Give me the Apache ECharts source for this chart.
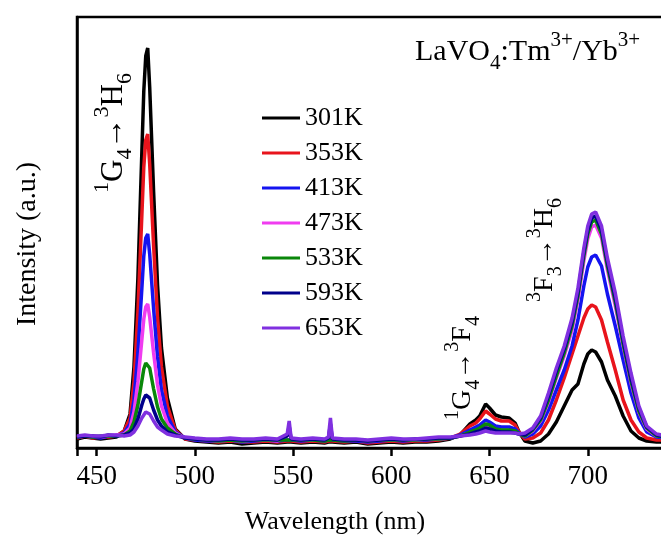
<!DOCTYPE html>
<html><head><meta charset="utf-8">
<script src="https://cdn.jsdelivr.net/npm/echarts@6/dist/echarts.min.js"></script>
<style>html,body{margin:0;padding:0;background:#fff}#c{width:661px;height:537px}</style>
</head><body><div id="c"></div>
<script>
// wavelength sampling points (nm)
const wavelengths = [440,444,448,452,456,460,
  464,467,469,471,473,474,475,476,477,479,481,483,486,490,
  495,500,506,512,518,524,530,536,542,547,548,549,
  554,560,566,568,569,570,
  576,582,588,594,600,606,612,618,624,630,
  635,640,643,645,648,650,653,656,660,663,665,668,
  672,676,680,684,688,692,695,698,700,702,704,707,710,714,718,722,726,730,735,740];

const seriesNames = ['301K','353K','413K','473K','533K','593K','653K'];

const i301 = [9,11,10,9,10,11,
  17,34,81,170,295,357,392,400,361,256,163,100,50,19,
  9,7,6,5,6,4,5,6,5,6,7,6,
  5,6,5,6,7,6,
  5,6,4,5,6,5,6,6,7,9,
  13,24,28,32,44,40,33,31,30,25,16,7,
  5,7,14,26,42,58,64,84,94,98,96,86,68,52,32,17,10,7,6,6];

const i353 = [10,12,10,11,11,12,
  17,30,66,136,232,281,308,314,284,202,130,81,42,18,
  9,8,7,6,7,6,6,7,6,7,8,7,
  6,7,6,7,8,7,
  6,7,5,6,7,6,7,7,8,10,
  14,22,25,29,37,34,29,27,27,23,16,9,
  10,15,28,48,70,94,112,130,139,143,141,128,106,78,48,28,16,10,8,8];

const i413 = [11,12,11,10,12,12,
  15,24,48,95,159,192,210,214,194,139,91,58,32,16,
  10,8,7,7,8,6,7,8,7,8,10,8,
  7,8,7,8,10,8,
  7,7,6,7,8,7,8,8,9,10,
  13,18,21,23,28,26,22,21,21,19,15,11,
  14,22,38,58,78,102,128,162,181,191,193,182,154,122,88,55,30,16,11,10];

const i473 = [11,12,12,11,12,13,
  14,20,36,66,108,129,141,144,131,95,63,42,25,15,
  10,9,8,7,8,7,8,8,7,12,18,9,
  8,8,8,10,20,9,
  8,8,7,8,8,8,8,9,9,10,
  12,15,17,19,22,21,18,17,17,16,14,12,
  17,27,46,70,92,118,148,187,209,221,223,210,178,142,102,65,36,19,12,11];

const i533 = [11,12,11,12,12,12,
  13,17,26,43,67,79,85,87,80,59,41,29,20,14,
  10,9,8,7,8,7,8,8,8,8,10,8,
  8,8,7,8,10,8,
  7,8,7,8,8,8,8,9,9,10,
  12,16,18,20,24,23,19,18,18,17,14,12,
  18,28,48,72,95,122,152,192,214,226,228,214,182,146,104,67,37,20,12,11];

const i593 = [11,12,12,11,13,12,
  13,15,19,29,43,49,53,54,50,38,28,22,16,13,
  10,9,8,8,9,8,8,9,8,12,22,9,
  8,9,8,10,24,9,
  8,8,7,8,9,8,9,9,10,10,
  12,14,16,17,20,19,17,16,16,15,14,13,
  19,30,52,77,99,126,156,196,218,230,232,218,186,150,108,70,40,21,13,11];

const i653 = [12,13,12,12,13,13,
  12,13,16,22,30,33,36,36,34,27,21,18,14,12,
  11,10,9,9,10,9,9,10,9,14,27,10,
  9,10,9,11,30,10,
  9,9,8,9,10,9,9,10,11,11,
  12,13,14,15,17,16,15,15,15,15,14,15,
  20,32,55,80,102,130,160,200,222,234,236,222,190,155,112,75,42,22,14,12];

const xTicks = [450,500,550,600,650,700,750];

const intensities = [i301,i353,i413,i473,i533,i593,i653];
const colors = ['#000000','#e8141c','#1414f0','#f03cf0','#0a870a','#00008b','#8030e0'];
const FONT = '"Liberation Serif","Times New Roman",serif';

const chart = echarts.init(document.getElementById('c'));

function mkRich(big, small) {
  return {
    n:   {fontFamily: FONT, fontSize: big, lineHeight: Math.round(big * 1.45), color: '#000'},
    sup: {fontFamily: FONT, fontSize: small, lineHeight: small + 2, verticalAlign: 'top', color: '#000'},
    sub: {fontFamily: FONT, fontSize: small, lineHeight: small + 2, verticalAlign: 'bottom', color: '#000'}
  };
}

function label(x, y, text, rot, align, big, small) {
  return {
    type: 'text', x: x, y: y, rotation: rot || 0, silent: true, z: 100,
    style: {
      text: text, rich: mkRich(big || 26, small || 18),
      align: align || 'center', textAlign: align || 'center',
      verticalAlign: 'middle', textVerticalAlign: 'middle',
      fill: '#000', font: (big || 26) + 'px ' + FONT
    }
  };
}

const option = {
  backgroundColor: '#fff',
  animation: false,
  grid: {left: 77, top: 17, width: 609, height: 431, show: true, borderColor: '#000', borderWidth: 2.5,
         containLabel: false, outerBoundsMode: 'none'},
  xAxis: {
    type: 'value', min: 440, max: 750, splitNumber: 6,
    axisLine: {show: true, lineStyle: {color: '#000', width: 2.5}},
    axisTick: {show: true, inside: false, length: 8, lineStyle: {color: '#000', width: 2.5}},
    axisLabel: {
      color: '#000', fontFamily: FONT, fontSize: 27, margin: 15,
      formatter: function (v) { return xTicks.indexOf(v) >= 0 ? String(v) : ''; }
    },
    splitLine: {show: false}
  },
  yAxis: {
    type: 'value', min: 0, max: 431,
    axisLine: {show: true, lineStyle: {color: '#000', width: 2.5}},
    axisTick: {show: false}, axisLabel: {show: false}, splitLine: {show: false}
  },
  legend: {
    orient: 'vertical', left: 262, top: 105, padding: 0,
    itemWidth: 38, itemHeight: 3, itemGap: 9, icon: 'rect',
    textStyle: {fontFamily: FONT, fontSize: 26, color: '#000', lineHeight: 26},
    data: seriesNames
  },
  series: seriesNames.map(function (name, k) {
    return {
      name: name, type: 'line', showSymbol: false, symbol: 'none',
      lineStyle: {width: 3.5, color: colors[k]}, itemStyle: {color: colors[k]},
      data: wavelengths.map(function (w, i) { return [w, intensities[k][i]]; })
    };
  }),
  graphic: [
    label(335, 522, '{n|Wavelength (nm)}', 0, 'center', 26, 18),
    label(28, 244, '{n|Intensity (a.u.)}', Math.PI / 2, 'center', 28, 18),
    label(415, 52, '{n|LaVO}{sub|4}{n|:Tm}{sup|3+}{n|/Yb}{sup|3+}', 0, 'left', 30, 21),
    label(114, 133, '{sup|1}{n|G}{sub|4}{n|→}{sup|3}{n|H}{sub|6}', Math.PI / 2, 'center', 31, 22),
    label(463, 368, '{sup|1}{n|G}{sub|4}{n|→}{sup|3}{n|F}{sub|4}', Math.PI / 2, 'center', 28, 20),
    label(545, 250, '{sup|3}{n|F}{sub|3}{n|→}{sup|3}{n|H}{sub|6}', Math.PI / 2, 'center', 28, 20)
  ]
};
chart.setOption(option);
</script>
</body></html>
